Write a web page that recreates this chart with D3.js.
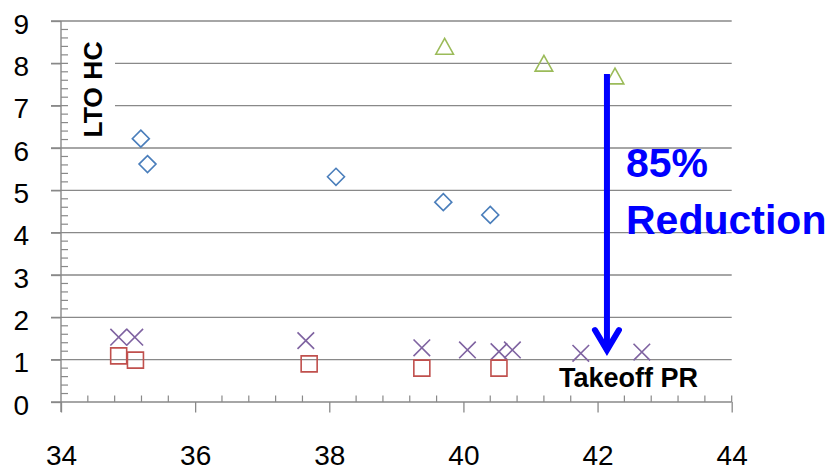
<!DOCTYPE html>
<html>
<head>
<meta charset="utf-8">
<script src="https://cdn.jsdelivr.net/npm/d3@7"></script>
<style>
  html, body { margin: 0; padding: 0; background: #fff; }
  svg { display: block; }
</style>
</head>
<body>
<svg id="chart" width="827" height="474"></svg>
<script>
// ---- data ----
const xTicks = [34, 36, 38, 40, 42, 44];
const yTicks = [0, 1, 2, 3, 4, 5, 6, 7, 8, 9];

const diamondX = [35.19, 35.29, 38.10, 39.70, 40.40];
const diamondY = [6.22, 5.62, 5.32, 4.72, 4.42];

const triangleX = [39.72, 41.20, 42.26];
const triangleY = [8.40, 8.00, 7.70];

const crossX = [34.86, 35.10, 37.65, 39.38, 40.06, 40.53, 40.73, 41.75, 42.66];
const crossY = [1.53, 1.53, 1.45, 1.28, 1.23, 1.19, 1.23, 1.15, 1.18];

const squareX = [34.86, 35.11, 37.70, 39.38, 40.53];
const squareY = [1.09, 0.99, 0.90, 0.80, 0.80];

const arrowX = 42.14, arrowTop = 7.75, arrowBottom = 1.18;
const yLabel = "LTO HC";
const xLabel = "Takeoff PR";
const noteLines = ["85%", "Reduction"];

// ---- scales ----
const svg = d3.select("#chart");
const x = d3.scaleLinear().domain([34, 44]).range([61, 731.7]);
const y = d3.scaleLinear().domain([0, 9]).range([402, 21]);
const gray = "#898989";
const font = "'Liberation Sans', Arial, sans-serif";

// gridlines
svg.append("g").selectAll("line").data(yTicks.filter(d => d > 0)).join("line")
  .attr("x1", 51).attr("x2", x(44))
  .attr("y1", d => y(d)).attr("y2", d => y(d))
  .attr("stroke", gray).attr("stroke-width", 1.3);

// minor ticks y (inside)
const yMinor = d3.range(0, 9.001, 0.2).filter(v => Math.abs(v - Math.round(v)) > 1e-6);
svg.append("g").selectAll("line").data(yMinor).join("line")
  .attr("x1", x(34)).attr("x2", x(34) + 7)
  .attr("y1", d => y(d)).attr("y2", d => y(d))
  .attr("stroke", gray).attr("stroke-width", 1.2);

// minor ticks x (inside)
const xMinor = d3.range(34, 44.001, 0.4).filter(v => Math.abs(v / 2 - Math.round(v / 2)) > 1e-6);
svg.append("g").selectAll("line").data(xMinor).join("line")
  .attr("x1", d => x(d)).attr("x2", d => x(d))
  .attr("y1", y(0) - 6.5).attr("y2", y(0))
  .attr("stroke", gray).attr("stroke-width", 1.2);

// y axis
const yAxis = svg.append("g").attr("transform", `translate(${x(34)},0)`)
  .call(d3.axisLeft(y).tickValues(yTicks).tickSize(10).tickPadding(0).tickFormat(d3.format("d")));
yAxis.select(".domain").remove();
yAxis.selectAll(".tick line").attr("stroke", gray).attr("stroke-width", 1.3);
yAxis.selectAll(".tick text").attr("x", -32).attr("dy", "0.43em").attr("font-family", font).attr("font-size", 28).attr("fill", "#000");
svg.append("line").attr("x1", x(34)).attr("x2", x(34)).attr("y1", y(9)).attr("y2", y(0) + 10)
  .attr("stroke", gray).attr("stroke-width", 1.4);

// x axis
const xAxis = svg.append("g").attr("transform", `translate(0,${y(0)})`)
  .call(d3.axisBottom(x).tickValues(xTicks).tickSize(10.5).tickPadding(0).tickFormat(d3.format("d")));
xAxis.select(".domain").remove();
xAxis.selectAll(".tick line").attr("stroke", gray).attr("stroke-width", 1.3);
xAxis.selectAll(".tick text").attr("y", 63).attr("dy", "0").attr("font-family", font).attr("font-size", 28).attr("fill", "#000");
svg.append("line").attr("x1", 51).attr("x2", x(44)).attr("y1", y(0)).attr("y2", y(0))
  .attr("stroke", gray).attr("stroke-width", 1.4);
svg.append("line").attr("x1", x(44)).attr("x2", x(44)).attr("y1", y(0) - 6.5).attr("y2", y(0))
  .attr("stroke", gray).attr("stroke-width", 1.2);

// y label with white box
svg.append("rect").attr("x", 68).attr("y", 30).attr("width", 47).attr("height", 112).attr("fill", "#fff");
svg.append("text")
  .attr("transform", `translate(101.5,89.5) rotate(-90)`)
  .attr("text-anchor", "middle")
  .attr("font-family", font).attr("font-weight", "bold").attr("font-size", 26.5)
  .text(yLabel);

// markers
const sw = 1.6;
const mk = svg.append("g");
mk.selectAll("path.diamond").data(diamondX.map((v, i) => [v, diamondY[i]])).join("path")
  .attr("class", "diamond")
  .attr("transform", d => `translate(${x(d[0])},${y(d[1])})`)
  .attr("d", "M0,-8.5L8.5,0L0,8.5L-8.5,0Z")
  .attr("fill", "none").attr("stroke", "#4a7ebb").attr("stroke-width", sw);

mk.selectAll("path.tri").data(triangleX.map((v, i) => [v, triangleY[i]])).join("path")
  .attr("class", "tri")
  .attr("transform", d => `translate(${x(d[0])},${y(d[1])})`)
  .attr("d", "M0,-8L8.8,7.8L-8.8,7.8Z")
  .attr("fill", "none").attr("stroke", "#9bbb59").attr("stroke-width", sw);

mk.selectAll("path.cross").data(crossX.map((v, i) => [v, crossY[i]])).join("path")
  .attr("class", "cross")
  .attr("transform", d => `translate(${x(d[0])},${y(d[1])})`)
  .attr("d", "M-8.3,-8.3L8.3,8.3M8.3,-8.3L-8.3,8.3")
  .attr("fill", "none").attr("stroke", "#7f63a1").attr("stroke-width", sw);

mk.selectAll("path.sq").data(squareX.map((v, i) => [v, squareY[i]])).join("path")
  .attr("class", "sq")
  .attr("transform", d => `translate(${x(d[0])},${y(d[1])})`)
  .attr("d", "M-8,-8H8V8H-8Z")
  .attr("fill", "none").attr("stroke", "#c0504d").attr("stroke-width", sw);

// arrow
const ax = x(arrowX);
svg.append("line").attr("x1", ax).attr("x2", ax).attr("y1", y(arrowTop)).attr("y2", y(arrowBottom) - 3)
  .attr("stroke", "#0000ff").attr("stroke-width", 6);
svg.append("path")
  .attr("d", `M${ax - 12},${y(arrowBottom) - 22}L${ax},${y(arrowBottom) - 2}L${ax + 12},${y(arrowBottom) - 22}`)
  .attr("fill", "none").attr("stroke", "#0000ff").attr("stroke-width", 6)
  .attr("stroke-linecap", "round").attr("stroke-linejoin", "miter");

// annotation text
svg.append("text").attr("x", 626).attr("y", 177)
  .attr("font-family", font).attr("font-weight", "bold").attr("font-size", 41).attr("fill", "#0000ff")
  .text(noteLines[0]);
svg.append("text").attr("x", 626).attr("y", 234)
  .attr("font-family", font).attr("font-weight", "bold").attr("font-size", 41).attr("fill", "#0000ff")
  .text(noteLines[1]);

svg.append("text").attr("x", 559).attr("y", 387)
  .attr("font-family", font).attr("font-weight", "bold").attr("font-size", 27).attr("fill", "#000")
  .text(xLabel);
</script>
</body>
</html>
